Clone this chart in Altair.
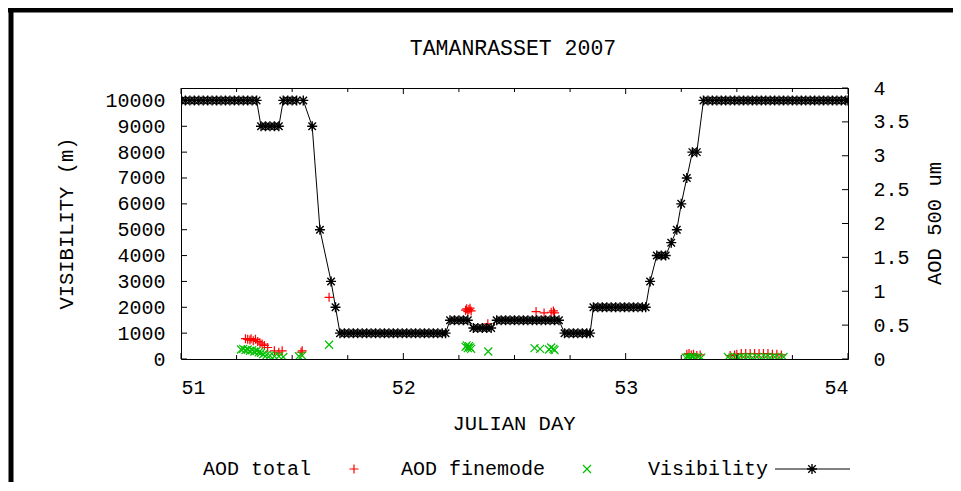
import altair as alt
import pandas as pd

# ---------------- text ----------------
title_text = "TAMANRASSET 2007"
x_title = "JULIAN DAY"
y_title = "VISIBILITY (m)"
y2_title = "AOD 500 um"
legend_labels = ["AOD total", "AOD finemode", "Visibility"]

# ---------------- data ----------------
vis_day = [
    51.00, 51.02, 51.04, 51.06, 51.08, 51.10, 51.12, 51.14, 51.16, 51.18,
    51.20, 51.22, 51.24, 51.26, 51.28, 51.30, 51.32, 51.34,
    51.36, 51.38, 51.40, 51.42, 51.44,
    51.46, 51.48, 51.50, 51.52, 51.55,
    51.59, 51.625, 51.675, 51.695,
    51.715, 51.735, 51.755, 51.775, 51.795, 51.815, 51.835, 51.855, 51.875,
    51.895, 51.915, 51.935, 51.955, 51.975, 51.995, 52.015, 52.035, 52.055,
    52.075, 52.095, 52.115, 52.135, 52.155, 52.175, 52.19,
    52.21, 52.23, 52.25, 52.27, 52.29,
    52.315, 52.335, 52.355, 52.375, 52.395,
    52.42, 52.44, 52.46, 52.48, 52.50, 52.52, 52.54, 52.56, 52.58, 52.60,
    52.62, 52.64, 52.66, 52.68, 52.70,
    52.725, 52.745, 52.765, 52.785, 52.805, 52.825, 52.84,
    52.855, 52.875, 52.895, 52.915, 52.935, 52.955, 52.975, 52.995, 53.015,
    53.035, 53.055, 53.075, 53.09,
    53.11, 53.14, 53.16, 53.18, 53.205, 53.23, 53.25, 53.275, 53.30, 53.32,
    53.35, 53.37, 53.39, 53.41, 53.43, 53.45, 53.47, 53.49, 53.51, 53.53,
    53.55, 53.57, 53.59, 53.61, 53.63, 53.65, 53.67, 53.69, 53.71, 53.73,
    53.75, 53.77, 53.79, 53.81, 53.83, 53.85, 53.87, 53.89, 53.91, 53.93,
    53.95, 53.97, 53.99, 54.00,
]
vis_m = [
    10000, 10000, 10000, 10000, 10000, 10000, 10000, 10000, 10000, 10000,
    10000, 10000, 10000, 10000, 10000, 10000, 10000, 10000,
    9000, 9000, 9000, 9000, 9000,
    10000, 10000, 10000, 10000, 10000,
    9000, 5000, 3000, 2000,
    1000, 1000, 1000, 1000, 1000, 1000, 1000, 1000, 1000,
    1000, 1000, 1000, 1000, 1000, 1000, 1000, 1000, 1000,
    1000, 1000, 1000, 1000, 1000, 1000, 1000,
    1500, 1500, 1500, 1500, 1500,
    1200, 1200, 1200, 1200, 1200,
    1500, 1500, 1500, 1500, 1500, 1500, 1500, 1500, 1500, 1500,
    1500, 1500, 1500, 1500, 1500,
    1000, 1000, 1000, 1000, 1000, 1000, 1000,
    2000, 2000, 2000, 2000, 2000, 2000, 2000, 2000, 2000,
    2000, 2000, 2000, 2000,
    3000, 4000, 4000, 4000, 4500, 5000, 6000, 7000, 8000, 8000,
    10000, 10000, 10000, 10000, 10000, 10000, 10000, 10000, 10000, 10000,
    10000, 10000, 10000, 10000, 10000, 10000, 10000, 10000, 10000, 10000,
    10000, 10000, 10000, 10000, 10000, 10000, 10000, 10000, 10000, 10000,
    10000, 10000, 10000, 10000,
]

tot_day = [
    51.29, 51.30, 51.31, 51.315, 51.325, 51.335, 51.345, 51.355, 51.365, 51.375,
    51.39, 51.42, 51.44, 51.455, 51.54, 51.545, 51.666,
    52.28, 52.285, 52.29, 52.295, 52.30, 52.305, 52.38,
    52.597, 52.633, 52.665, 52.675, 52.68,
    53.275, 53.285, 53.295, 53.305, 53.32, 53.335,
    53.47, 53.49, 53.50, 53.52, 53.54, 53.56, 53.58, 53.60, 53.62, 53.64,
    53.66, 53.68, 53.70,
]
tot_aod = [
    0.30, 0.29, 0.28, 0.30, 0.27, 0.29, 0.26, 0.24, 0.22, 0.20,
    0.17, 0.12, 0.10, 0.12, 0.10, 0.12, 0.91,
    0.72, 0.74, 0.70, 0.73, 0.75, 0.71, 0.52,
    0.70, 0.68, 0.69, 0.71, 0.68,
    0.07, 0.08, 0.06, 0.07, 0.05, 0.06,
    0.05, 0.06, 0.07, 0.08, 0.08, 0.08, 0.08, 0.08, 0.08, 0.08,
    0.07, 0.07, 0.06,
]

fine_day = [
    51.27, 51.28, 51.29, 51.30, 51.31, 51.32, 51.33, 51.34, 51.35, 51.36,
    51.37, 51.385, 51.40, 51.42, 51.44, 51.46, 51.53, 51.545, 51.666,
    52.28, 52.285, 52.29, 52.295, 52.30, 52.305, 52.382,
    52.59, 52.615, 52.655, 52.665, 52.675, 52.68,
    53.27, 53.28, 53.29, 53.30, 53.31, 53.325, 53.34,
    53.46, 53.48, 53.50, 53.51, 53.53, 53.55, 53.57, 53.59, 53.61, 53.63,
    53.65, 53.67, 53.69, 53.71,
]
fine_aod = [
    0.14, 0.15, 0.13, 0.14, 0.12, 0.13, 0.11, 0.12, 0.10, 0.09,
    0.07, 0.06, 0.05, 0.04, 0.04, 0.03, 0.04, 0.05, 0.21,
    0.18, 0.20, 0.16, 0.19, 0.17, 0.15, 0.11,
    0.16, 0.15, 0.14, 0.17, 0.15, 0.13,
    0.02, 0.03, 0.02, 0.03, 0.02, 0.03, 0.02,
    0.03, 0.02, 0.03, 0.02, 0.03, 0.03, 0.02, 0.03, 0.02, 0.03,
    0.02, 0.03, 0.02, 0.03,
]

x_labels = [51, 52, 53, 54]
x_minor = [51.25, 51.5, 51.75, 52.25, 52.5, 52.75, 53.25, 53.5, 53.75]
y_ticks = [0, 1000, 2000, 3000, 4000, 5000, 6000, 7000, 8000, 9000, 10000]
y2_ticks = [0, 0.5, 1, 1.5, 2, 2.5, 3, 3.5, 4]

# ---------------- layout / style ----------------
W, H = 667, 271
FONT = "Liberation Mono"
FS = 20
RED = "#ff0000"
GREEN = "#00c000"
PLUS = "M-1,0L1,0M0,-1L0,1"
CROSS = "M-1,-1L1,1M-1,1L1,-1"
STAR = "M-1,0L1,0M0,-1L0,1M-0.75,-0.75L0.75,0.75M-0.75,0.75L0.75,-0.75"

xscale = alt.Scale(domain=[51, 54], nice=False, zero=False)
yscale = alt.Scale(domain=[0, 10480], nice=False)
y2scale = alt.Scale(domain=[0, 4], nice=False)

x_axis = alt.Axis(values=x_labels, format="d", ticks=False, tickSize=0, domain=False,
                  grid=False, labelFont=FONT, labelFontSize=FS, labelColor="black",
                  labelBaseline="middle", labelPadding=28, title=None)
y_axis = alt.Axis(values=y_ticks, format="d", orient="left", ticks=False, tickSize=0,
                  domain=False, grid=False, labelFont=FONT, labelFontSize=FS,
                  labelColor="black", labelPadding=16, title=None)
y2_axis = alt.Axis(values=y2_ticks, format="~g", orient="right", ticks=False, tickSize=0,
                   domain=False, grid=False, labelFont=FONT, labelFontSize=FS,
                   labelColor="black", labelPadding=25, title=None)

one = pd.DataFrame({"k": [0]})
vis_df = pd.DataFrame({"day": vis_day, "vis": vis_m})
tot_df = pd.DataFrame({"day": tot_day, "aod": tot_aod})
fine_df = pd.DataFrame({"day": fine_day, "aod": fine_aod})
xmaj_df = pd.DataFrame({"t": x_labels})
xmin_df = pd.DataFrame({"t": x_minor})
yt_df = pd.DataFrame({"v": y_ticks})
y2t_df = pd.DataFrame({"v": y2_ticks})

X = alt.X("day:Q", scale=xscale, axis=x_axis)

# visibility (left axis)
vis_line = alt.Chart(vis_df).mark_line(color="black", strokeWidth=1, clip=True).encode(
    x=X, y=alt.Y("vis:Q", scale=yscale, axis=y_axis))
vis_pts = alt.Chart(vis_df).mark_point(shape=STAR, size=100, filled=False, color="black",
                                       strokeWidth=1.4, opacity=1, clip=True).encode(
    x=X, y=alt.Y("vis:Q", scale=yscale, axis=y_axis))
ytick_left = alt.Chart(yt_df).mark_rule(color="black", strokeWidth=1).encode(
    y=alt.Y("v:Q", scale=yscale, axis=y_axis), x=alt.value(0), x2=alt.value(6))
xt_major_b = alt.Chart(xmaj_df).mark_rule(color="black", strokeWidth=1).encode(
    x=alt.X("t:Q", scale=xscale, axis=x_axis), y=alt.value(H), y2=alt.value(H - 6))
xt_major_t = alt.Chart(xmaj_df).mark_rule(color="black", strokeWidth=1).encode(
    x=alt.X("t:Q", scale=xscale, axis=x_axis), y=alt.value(0), y2=alt.value(6))
xt_minor_b = alt.Chart(xmin_df).mark_rule(color="black", strokeWidth=1).encode(
    x=alt.X("t:Q", scale=xscale, axis=x_axis), y=alt.value(H), y2=alt.value(H - 4))
xt_minor_t = alt.Chart(xmin_df).mark_rule(color="black", strokeWidth=1).encode(
    x=alt.X("t:Q", scale=xscale, axis=x_axis), y=alt.value(0), y2=alt.value(4))
left = alt.layer(ytick_left, xt_major_b, xt_major_t, xt_minor_b, xt_minor_t, vis_line, vis_pts)

# AOD (right axis)
tot_pts = alt.Chart(tot_df).mark_point(shape=PLUS, size=81, filled=False, color=RED,
                                       strokeWidth=1.2, opacity=1, clip=True).encode(
    x=X, y=alt.Y("aod:Q", scale=y2scale, axis=y2_axis))
fine_pts = alt.Chart(fine_df).mark_point(shape=CROSS, size=64, filled=False, color=GREEN,
                                         strokeWidth=1.2, opacity=1, clip=True).encode(
    x=X, y=alt.Y("aod:Q", scale=y2scale, axis=y2_axis))
ytick_right = alt.Chart(y2t_df).mark_rule(color="black", strokeWidth=1).encode(
    y=alt.Y("v:Q", scale=y2scale, axis=y2_axis), x=alt.value(W), x2=alt.value(W - 6))
right = alt.layer(tot_pts, fine_pts, ytick_right)


def txt(s, x, y, align="center", angle=0, size=20.5):
    kw = dict(text=s, font=FONT, fontSize=size, color="black", align=align, baseline="middle")
    if angle:
        kw["angle"] = angle
    return alt.Chart(one).mark_text(**kw).encode(x=alt.value(x), y=alt.value(y))


LY = 381
deco = alt.layer(
    # outer black frame pieces (left and top)
    alt.Chart(one).mark_rule(color="black", strokeWidth=5).encode(
        x=alt.value(-170), y=alt.value(-82), y2=alt.value(420)),
    alt.Chart(one).mark_rule(color="black", strokeWidth=5).encode(
        x=alt.value(-175), x2=alt.value(800), y=alt.value(-78)),
    txt(title_text, 332, -39, size=21.5),
    txt(x_title, 333, 336),
    txt(y_title, -114, 135.5, angle=270),
    txt(y2_title, 754, 135.5, angle=270),
    # legend
    txt(legend_labels[0], 130, LY, align="right", size=20),
    txt(legend_labels[1], 364, LY, align="right", size=20),
    txt(legend_labels[2], 587, LY, align="right", size=20),
    alt.Chart(one).mark_point(shape=PLUS, size=81, filled=False, color=RED, strokeWidth=1.2,
                              opacity=1).encode(x=alt.value(173), y=alt.value(LY)),
    alt.Chart(one).mark_point(shape=CROSS, size=64, filled=False, color=GREEN, strokeWidth=1.2,
                              opacity=1).encode(x=alt.value(406), y=alt.value(LY)),
    alt.Chart(one).mark_rule(color="black", strokeWidth=1).encode(
        x=alt.value(594), x2=alt.value(669), y=alt.value(LY)),
    alt.Chart(one).mark_point(shape=STAR, size=100, filled=False, color="black", strokeWidth=1.4,
                              opacity=1).encode(x=alt.value(631), y=alt.value(LY)),
)

chart = alt.layer(right, left, deco).resolve_scale(y="independent").properties(
    width=W, height=H,
    autosize=alt.AutoSizeParams(type="none"),
    padding={"left": 173, "top": 80, "right": 105, "bottom": 123},
    background="white",
).configure_view(stroke="black", strokeWidth=1)

chart.save("out.html", embed_options={"renderer": "svg", "actions": False})
